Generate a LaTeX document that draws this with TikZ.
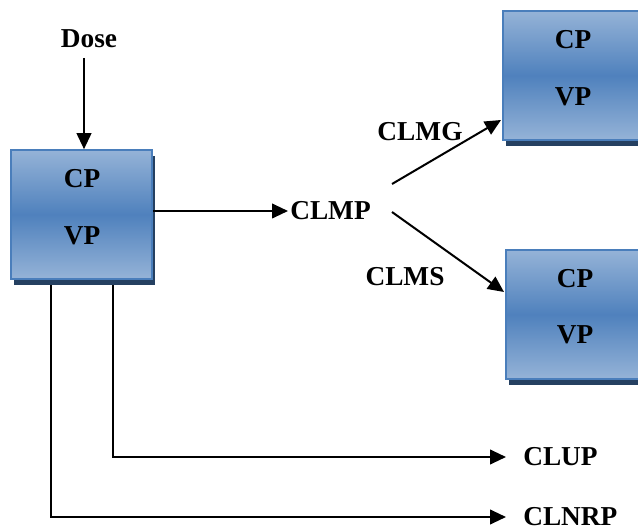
\documentclass[tikz,border=0pt]{standalone}
\usepackage{fontspec}
\setmainfont{Liberation Serif}
\usetikzlibrary{arrows.meta,shadows}
\definecolor{boxlight}{RGB}{149,179,215}
\definecolor{boxdark}{RGB}{79,129,189}
\definecolor{boxedge}{RGB}{74,126,187}
\definecolor{boxshadow}{RGB}{37,64,97}
\tikzset{
  cbox/.style={draw=boxedge, line width=1.2pt, top color=boxlight, bottom color=boxlight, middle color=boxdark,
    minimum width=105.75pt, minimum height=96.75pt, inner sep=0pt,
    drop shadow={shadow xshift=2.25pt, shadow yshift=-4.5pt, fill=boxshadow, opacity=1}},
  lbl/.style={font=\fontsize{20.5}{24}\selectfont\bfseries, inner sep=0pt},
  arr/.style={line width=1.5pt, -{Triangle[length=12pt,width=11pt]}},
  ln/.style={line width=1.5pt}
}
\begin{document}
\begin{tikzpicture}[x=0.75pt,y=-0.75pt]
\useasboundingbox (0,0) rectangle (638,530);
% connectors below the box
\node[lbl, anchor=west] (clup) at (523,457) {CLUP};
\node[lbl, anchor=west] (clnrp) at (523,517) {CLNRP};
\coordinate (up0) at (113,270);
\coordinate (nr0) at (51,270);
\draw[arr] (up0) |- ([xshift=-12.75pt]clup.west);
\draw[arr] (nr0) |- ([xshift=-12.75pt]clnrp.west);
% boxes
\node[cbox] (L) at (81.5,214.5) {};
\node[lbl] (lcp) at (82,179) {CP};
\node[lbl] (lvp) at (82,236) {VP};
\node[cbox] (TR) at (573.5,75.5) {};
\node[lbl] (tcp) at (573,40) {CP};
\node[lbl] (tvp) at (573,97) {VP};
\node[cbox] (BR) at (576.5,314.5) {};
\node[lbl] (bcp) at (575,279) {CP};
\node[lbl] (bvp) at (575,335) {VP};
% labels
\node[lbl] (dose) at (89,39) {Dose};
\node[lbl, anchor=west] (clmp) at (290,211) {CLMP};
\node[lbl] (clmg) at (420,132) {CLMG};
\node[lbl] (clms) at (405,277) {CLMS};
% connectors
\coordinate (d0) at (84,58);
\draw[arr] (d0) -- (d0 |- L.north);
\draw[arr] (L.east |- clmp.west) -- ([xshift=-1.5pt]clmp.west);
\coordinate (g0) at (392,184);
\coordinate (g1) at (501,120);
\coordinate (s0) at (392,212);
\coordinate (s1) at (504,292);
\draw[arr] (g0) -- (g1);
\draw[arr] (s0) -- (s1);
\end{tikzpicture}
\end{document}
